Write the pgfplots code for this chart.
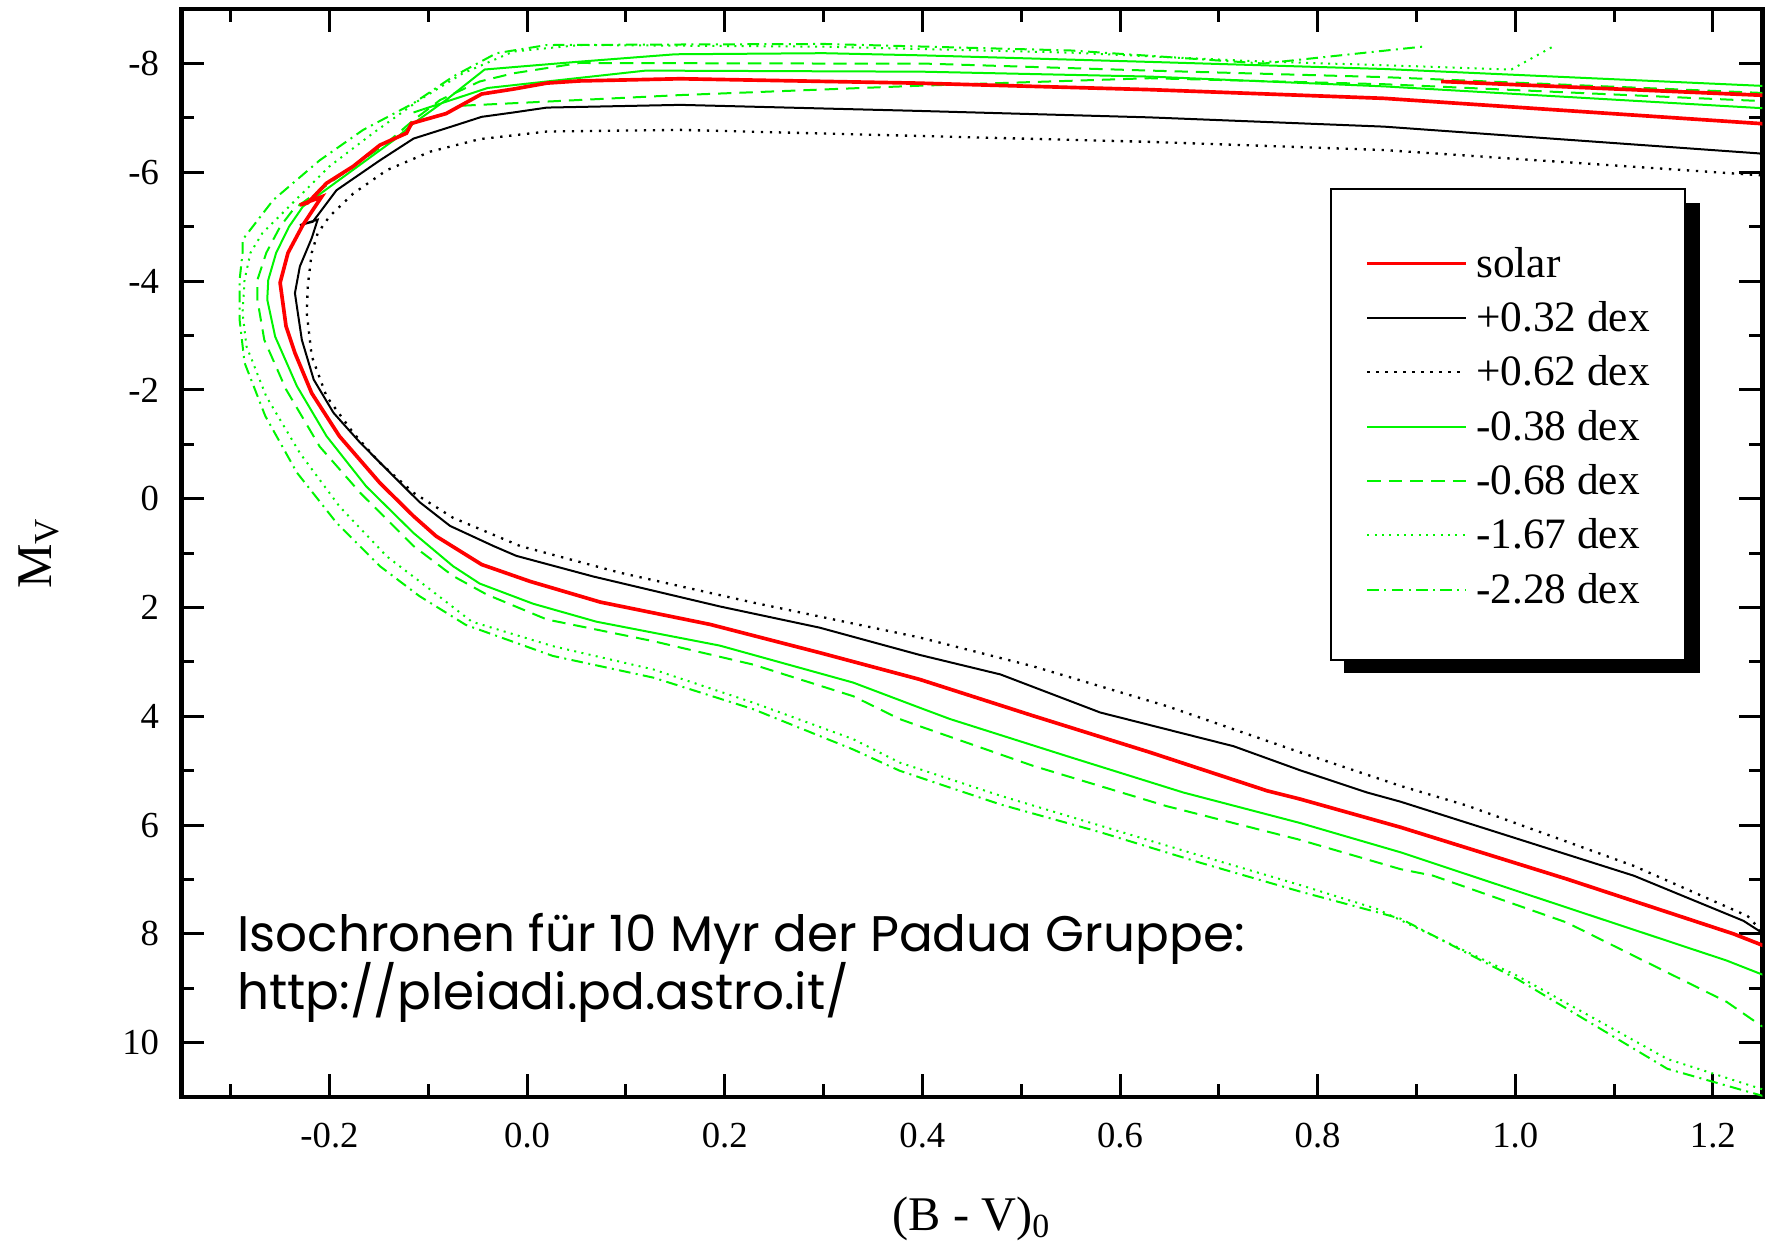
\documentclass[border=0pt]{standalone}
\usepackage{fontspec}
\setmainfont{Liberation Serif}
\newfontfamily\annfont{Poppins}
\usepackage{pgfplots}
\pgfplotsset{compat=1.18}

\definecolor{isored}{RGB}{255,0,0}
\definecolor{isogreen}{RGB}{0,245,0}

% line styles of the seven isochrones
\tikzset{
  solarline/.style={isored, line width=1.1pt},
  plusA/.style={black, line width=0.6pt},
  plusB/.style={black, line width=0.7pt, dash pattern=on 0.7pt off 2pt},
  minusA/.style={isogreen, line width=0.6pt},
  minusB/.style={isogreen, line width=0.6pt, dash pattern=on 4pt off 2.4pt},
  minusC/.style={isogreen, line width=0.6pt, dash pattern=on 0.6pt off 1.6pt},
  minusD/.style={isogreen, line width=0.6pt, dash pattern=on 3.5pt off 1.6pt on 0.6pt off 1.6pt},
}

\begin{document}
\begin{tikzpicture}
\begin{axis}[
  at={(0,0)}, anchor=south west,
  scale only axis, width=474.3pt, height=326.4pt,
  xmin=-0.35, xmax=1.25, ymin=-9, ymax=11, y dir=reverse,
  xtick={-0.2,0,0.2,0.4,0.6,0.8,1.0,1.2},
  xticklabels={-0.2,0.0,0.2,0.4,0.6,0.8,1.0,1.2},
  minor xtick={-0.3,-0.1,0.1,0.3,0.5,0.7,0.9,1.1},
  ytick={-8,-6,-4,-2,0,2,4,6,8,10},
  yticklabels={-8,-6,-4,-2,0,2,4,6,8,10},
  minor ytick={-7,-5,-3,-1,1,3,5,7,9},
  tick align=inside,
  major tick length=6.9pt, minor tick length=3.9pt,
  every tick/.style={black, line width=0.9pt},
  axis line style={line width=1.4pt},
  tick label style={font=\fontsize{11}{13}\selectfont},
  xticklabel style={anchor=north, inner sep=0pt, yshift=-7.5pt},
  yticklabel style={anchor=east, inner sep=0pt, xshift=-6.5pt},
  xlabel={(B - V)\textsubscript{0}},
  ylabel={M\textsubscript{V}},
  every axis x label/.style={at={([yshift=-40pt]axis description cs:0.5,0)}, anchor=base, font=\fontsize{14.5}{17}\selectfont},
  every axis y label/.style={at={([xshift=-39pt]axis description cs:0,0.5)}, rotate=90, anchor=base, font=\fontsize{15}{17}\selectfont},
  legend image code/.code={\draw[#1] (0pt,-0.6pt) -- (29.6pt,-0.6pt);},
  legend cell align=left,
  legend style={at={(0.7263,0.8355)}, anchor=north west,
    draw=black, line width=0.6pt, fill=white,
    inner xsep=10.5pt, inner ysep=16pt,
    nodes={inner sep=0pt, text height=10.4pt, text depth=1.1pt, font=\fontsize{13}{15}\selectfont},
    column sep=2.5pt, row sep=4.8pt},
]

% ---- legend entries
\addlegendimage{solarline}\addlegendentry{solar}
\addlegendimage{plusA}\addlegendentry{+0.32 dex}
\addlegendimage{plusB}\addlegendentry{+0.62 dex}
\addlegendimage{minusA}\addlegendentry{-0.38 dex}
\addlegendimage{minusB}\addlegendentry{-0.68 dex}
\addlegendimage{minusC}\addlegendentry{-1.67 dex}
\addlegendimage{minusD}\addlegendentry{-2.28 dex}

% ---- -2.28 dex
\addplot[minusD, forget plot] coordinates {
(1.30,11.2) (1.249,10.97) (1.154,10.48) (1.002,8.83) (0.884,7.72) (0.860,7.60)
(0.782,7.22) (0.681,6.69) (0.580,6.13) (0.479,5.62) (0.377,5.00) (0.330,4.61)
(0.229,3.87) (0.128,3.29) (0.026,2.89) (-0.062,2.32) (-0.109,1.79) (-0.149,1.24)
(-0.193,0.44) (-0.233,-0.48) (-0.265,-1.52) (-0.286,-2.50) (-0.291,-3.29)
(-0.291,-4.02) (-0.288,-4.52) (-0.288,-4.76) (-0.257,-5.49) (-0.210,-6.22)
(-0.166,-6.78) (-0.115,-7.27) (-0.075,-7.76) (-0.031,-8.19) (0.020,-8.34)
(0.300,-8.36) (0.550,-8.24) (0.745,-8.00) (0.906,-8.31)
};

% ---- -1.67 dex
\addplot[minusC, forget plot] coordinates {
(1.30,11.1) (1.249,10.85) (1.154,10.30) (1.002,8.77) (0.860,7.54) (0.782,7.10)
(0.681,6.56) (0.580,6.01) (0.479,5.46) (0.377,4.85) (0.330,4.42) (0.229,3.75)
(0.128,3.14) (0.026,2.71) (-0.056,2.26) (-0.098,1.67) (-0.142,1.06) (-0.190,0.14)
(-0.230,-0.84) (-0.264,-1.88) (-0.284,-2.80) (-0.288,-3.41) (-0.286,-4.02)
(-0.280,-4.52) (-0.268,-4.88) (-0.241,-5.37) (-0.200,-6.11) (-0.156,-6.72)
(-0.109,-7.33) (-0.065,-7.82) (-0.014,-8.22) (0.053,-8.34) (0.300,-8.31)
(0.550,-8.20) (0.740,-8.04) (0.900,-7.95) (0.996,-7.89) (1.038,-8.31)
};

% ---- -0.68 dex
\addplot[minusB, forget plot] coordinates {
(1.30,10.1) (1.249,9.69) (1.214,9.25) (1.052,7.79) (0.917,6.93) (0.884,6.81)
(0.782,6.27) (0.647,5.65) (0.512,4.91) (0.397,4.18) (0.377,4.05) (0.330,3.63)
(0.229,3.05) (0.128,2.62) (0.020,2.22) (-0.041,1.76) (-0.075,1.42) (-0.115,0.87)
(-0.169,-0.11) (-0.210,-0.96) (-0.244,-2.01) (-0.266,-2.92) (-0.273,-3.66)
(-0.273,-4.02) (-0.264,-4.52) (-0.250,-5.00) (-0.237,-5.31) (-0.210,-5.67)
(-0.176,-6.11) (-0.142,-6.54) (-0.115,-6.96) (-0.088,-7.33) (-0.048,-7.67)
(-0.014,-7.82) (0.053,-8.01) (0.300,-8.00) (0.400,-8.00) (0.630,-7.87)
(0.867,-7.75) (1.249,-7.46) (1.30,-7.42) (1.30,-7.25) (1.249,-7.31)
(0.867,-7.62) (0.630,-7.73) (0.394,-7.59) (0.155,-7.42) (-0.071,-7.22)
};

% ---- -0.38 dex
\addplot[minusA, forget plot] coordinates {
(1.30,9.05) (1.249,8.74) (1.214,8.49) (0.985,7.11) (0.884,6.50) (0.782,5.96)
(0.664,5.40) (0.546,4.73) (0.428,4.05) (0.397,3.84) (0.330,3.38) (0.195,2.70)
(0.070,2.26) (0.006,1.93) (-0.048,1.56) (-0.075,1.24) (-0.115,0.63)
(-0.163,-0.23) (-0.203,-1.15) (-0.233,-2.07) (-0.255,-2.98) (-0.263,-3.66)
(-0.262,-4.02) (-0.254,-4.52) (-0.241,-5.00) (-0.227,-5.37) (-0.200,-5.73)
(-0.163,-6.22) (-0.135,-6.59) (-0.115,-6.90) (-0.082,-7.33) (-0.043,-7.89)
(0.050,-8.03) (0.150,-8.17) (0.300,-8.19) (0.400,-8.15) (0.630,-8.03)
(0.867,-7.90) (1.249,-7.59) (1.30,-7.54) (1.30,-7.10) (1.249,-7.18)
(0.867,-7.58) (0.630,-7.76) (0.400,-7.85) (0.120,-7.87) (-0.040,-7.55)
(-0.115,-7.10)
};

% ---- +0.62 dex
\addplot[plusB, forget plot] coordinates {
(1.30,8.3) (1.249,7.94) (1.235,7.67) (1.120,6.75) (0.951,5.64) (0.884,5.28)
(0.782,4.66) (0.647,3.81) (0.512,3.08) (0.397,2.55) (0.229,1.91) (0.094,1.36)
(-0.007,0.87) (-0.075,0.35) (-0.115,-0.11) (-0.149,-0.66) (-0.176,-1.21)
(-0.203,-1.88) (-0.218,-2.62) (-0.223,-3.41) (-0.222,-3.91) (-0.218,-4.52)
(-0.212,-4.88) (-0.200,-5.19) (-0.176,-5.61) (-0.142,-6.04) (-0.098,-6.38)
(-0.048,-6.61) (0.020,-6.75) (0.155,-6.78) (0.394,-6.67) (0.630,-6.56)
(0.867,-6.41) (1.245,-5.95) (1.30,-5.85)
};

% ---- +0.32 dex
\addplot[plusA, forget plot] coordinates {
(1.30,8.4) (1.249,7.97) (1.231,7.76) (1.120,6.93) (0.884,5.57) (0.850,5.40)
(0.782,4.99) (0.715,4.55) (0.580,3.93) (0.479,3.23) (0.397,2.87) (0.296,2.37)
(0.195,1.98) (0.067,1.43) (-0.011,1.05) (-0.034,0.87) (-0.078,0.50)
(-0.109,0.06) (-0.135,-0.41) (-0.169,-1.03) (-0.196,-1.58) (-0.216,-2.19)
(-0.228,-2.92) (-0.233,-3.53) (-0.235,-3.78) (-0.230,-4.27) (-0.218,-4.79)
(-0.212,-5.13) (-0.230,-5.03) (-0.217,-5.09) (-0.212,-5.21) (-0.193,-5.67)
(-0.173,-5.92) (-0.149,-6.22) (-0.115,-6.62) (-0.075,-6.85) (-0.046,-7.02)
(-0.014,-7.10) (0.020,-7.19) (0.155,-7.24) (0.394,-7.13) (0.630,-7.01)
(0.867,-6.84) (1.245,-6.35) (1.30,-6.25)
};

% ---- solar
\addplot[solarline, forget plot] coordinates {
(1.30,8.55) (1.249,8.20) (1.221,8.00) (1.052,6.99) (0.884,6.04) (0.782,5.52)
(0.749,5.37) (0.630,4.66) (0.512,3.99) (0.397,3.32) (0.296,2.83) (0.185,2.31)
(0.074,1.90) (0.003,1.52) (-0.046,1.21) (-0.092,0.69) (-0.115,0.32)
(-0.149,-0.29) (-0.190,-1.15) (-0.218,-1.94) (-0.235,-2.68) (-0.244,-3.17)
(-0.250,-3.97) (-0.242,-4.52) (-0.227,-5.03) (-0.208,-5.55) (-0.230,-5.40)
(-0.222,-5.44) (-0.203,-5.80) (-0.176,-6.11) (-0.149,-6.50) (-0.122,-6.72)
(-0.117,-6.90) (-0.082,-7.08) (-0.071,-7.19) (-0.046,-7.44) (-0.014,-7.53)
(0.020,-7.64) (0.053,-7.68) (0.155,-7.72) (0.394,-7.64) (0.630,-7.52)
(0.867,-7.36) (1.245,-6.90) (1.30,-6.83) (1.30,-7.38) (1.245,-7.42)
(0.925,-7.67)
};

% ---- solid shadow behind the legend box
\fill[black] (axis cs:0.827,-5.439) rectangle (axis cs:1.1874,3.200);

% ---- caption inside the frame
\node[anchor=base west, inner sep=0pt, font=\annfont\fontsize{15}{18}\selectfont]
  at (axis cs:-0.294,8.32) {Isochronen für 10 Myr der Padua Gruppe:};
\node[anchor=base west, inner sep=0pt, font=\annfont\fontsize{15}{18}\selectfont]
  at (axis cs:-0.294,9.39) {http://pleiadi.pd.astro.it/};
\end{axis}
\pgfresetboundingbox
\path[use as bounding box] (-54.39pt,-46.8pt) rectangle (478.71pt,329.13pt);
\end{tikzpicture}
\end{document}
